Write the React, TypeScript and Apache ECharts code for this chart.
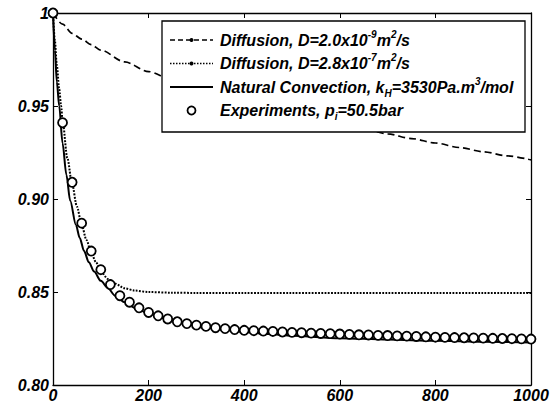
import React, { useEffect, useRef } from 'react';
import * as echarts from 'echarts';

// Time axis (s) and normalised pressure values
const DIFF_SLOW_T = [0, 20, 40, 60, 80, 100, 150, 200, 250, 300, 350, 400, 450, 500, 550, 600, 650, 700, 750, 800, 850, 900, 950, 1000];
const DIFF_SLOW_V = [1.0, 0.994, 0.989, 0.986, 0.983, 0.980, 0.9737, 0.9685, 0.964, 0.9599, 0.9561, 0.9526, 0.9493, 0.9462, 0.9432, 0.9404, 0.9376, 0.935, 0.9325, 0.9301, 0.9277, 0.9254, 0.9232, 0.921];

const DIFF_FAST_T = [0, 4, 8, 13, 17, 20, 30, 40, 50, 60, 70, 80, 90, 100, 115, 130, 150, 170, 200, 250, 300, 400, 500, 600, 700, 800, 900, 1000];
const DIFF_FAST_V = [1.0, 0.985, 0.972, 0.959, 0.95, 0.942, 0.922, 0.908, 0.896, 0.886, 0.878, 0.871, 0.866, 0.861, 0.857, 0.8545, 0.852, 0.8508, 0.85, 0.8496, 0.8495, 0.8495, 0.8495, 0.8495, 0.8495, 0.8495, 0.8495, 0.8495];

const CONV_T = [0, 4, 8, 13, 20, 28, 36, 48, 56, 65, 75, 86, 100, 115, 130, 150, 175, 200, 250, 300, 350, 400, 450, 500, 600, 700, 800, 900, 1000];
const CONV_V = [1.0, 0.98, 0.963, 0.95, 0.93, 0.913, 0.899, 0.886, 0.879, 0.872, 0.866, 0.861, 0.856, 0.852, 0.848, 0.8445, 0.841, 0.8385, 0.8345, 0.832, 0.83, 0.8285, 0.8274, 0.8265, 0.8252, 0.8244, 0.8238, 0.8233, 0.8228];

const EXP_T = [0, 20, 40, 60, 80, 100, 120, 140, 160, 180, 200, 220, 240, 260, 280, 300, 320, 340, 360, 380, 400, 420, 440, 460, 480, 500, 520, 540, 560, 580, 600, 620, 640, 660, 680, 700, 720, 740, 760, 780, 800, 820, 840, 860, 880, 900, 920, 940, 960, 980, 1000];
const EXP_V = [1.0, 0.941, 0.909, 0.887, 0.872, 0.862, 0.854, 0.848, 0.8445, 0.8415, 0.839, 0.8372, 0.8355, 0.834, 0.833, 0.8322, 0.8315, 0.8308, 0.8303, 0.8298, 0.8294, 0.8292, 0.829, 0.8288, 0.8285, 0.8283, 0.8281, 0.8279, 0.8277, 0.8276, 0.8274, 0.8272, 0.827, 0.8269, 0.8267, 0.8266, 0.8264, 0.8263, 0.8261, 0.8259, 0.8257, 0.8256, 0.8255, 0.8254, 0.8253, 0.8252, 0.8251, 0.825, 0.8249, 0.8248, 0.8247];

const X_TICK_LABELS = ['0', '200', '400', '600', '800', '1000'];
const Y_TICKS = [0.8, 0.85, 0.9, 0.95, 1.0];
const Y_TICK_LABELS = ['0.80', '0.85', '0.90', '0.95', '1'];

const LEGEND_LABELS = [
  '{t|Diffusion, D=2.0x10}{sup|-9}{t|m}{sup|2}{t|/s}',
  '{t|Diffusion, D=2.8x10}{sup|-7}{t|m}{sup|2}{t|/s}',
  '{t|Natural Convection, k}{sub|H}{t|=3530Pa.m}{sup|3}{t|/mol}',
  '{t|Experiments, p}{sub|i}{t|=50.5bar}',
];

const FONT = "'Liberation Sans', Arial, Helvetica, sans-serif";

const zip = (xs: number[], ys: number[]) => xs.map((x, i) => [x, ys[i]]);

const axisFont = {
  color: '#000',
  fontSize: 16,
  fontWeight: 'bold' as const,
  fontStyle: 'italic' as const,
  fontFamily: FONT,
};

export default function App() {
  const ref = useRef<HTMLDivElement>(null);

  useEffect(() => {
    document.body.style.margin = '0';
    if (!ref.current) return;
    const chart = echarts.init(ref.current, null, { renderer: 'svg' });

    const lineCommon = {
      type: 'line' as const,
      showSymbol: false,
      symbol: 'none',
      smooth: 0.3,
      smoothMonotone: 'x' as const,
      xAxisIndex: 0,
      yAxisIndex: 0,
    };

    const LF = 16;
    const rich = {
      t: { fontSize: LF, fontWeight: 'bold', fontStyle: 'italic', fontFamily: FONT, fill: '#000', lineHeight: 22 },
      sup: { fontSize: 10, fontWeight: 'bold', fontStyle: 'italic', fontFamily: FONT, fill: '#000', lineHeight: 13, verticalAlign: 'top' },
      sub: { fontSize: 10, fontWeight: 'bold', fontStyle: 'italic', fontFamily: FONT, fill: '#000', lineHeight: 11, verticalAlign: 'bottom' },
    };

    // legend box layout
    const boxX = 162, boxY = 21, boxW = 363, boxH = 111;
    const rowY = [40, 63.5, 87, 110.5];
    const sx1 = 170, sx2 = 213, sxm = 191.5, textX = 220;

    const legendEls: any[] = [
      {
        type: 'rect', z: 100,
        shape: { x: boxX, y: boxY, width: boxW, height: boxH },
        style: { fill: '#fff', stroke: '#000', lineWidth: 1.3 },
      },
      {
        type: 'line', z: 101,
        shape: { x1: sx1, y1: rowY[0], x2: sx2, y2: rowY[0] },
        style: { stroke: '#000', lineWidth: 1.6, lineDash: [5, 3] },
      },
      { type: 'circle', z: 102, shape: { cx: sxm, cy: rowY[0], r: 2 }, style: { fill: '#000' } },
      {
        type: 'line', z: 101,
        shape: { x1: sx1, y1: rowY[1], x2: sx2, y2: rowY[1] },
        style: { stroke: '#000', lineWidth: 1.6, lineDash: [1.5, 1.5] },
      },
      { type: 'circle', z: 102, shape: { cx: sxm, cy: rowY[1], r: 2 }, style: { fill: '#000' } },
      {
        type: 'line', z: 101,
        shape: { x1: sx1, y1: rowY[2], x2: sx2, y2: rowY[2] },
        style: { stroke: '#000', lineWidth: 2 },
      },
      { type: 'circle', z: 102, shape: { cx: sxm, cy: rowY[3], r: 4 }, style: { fill: '#fff', stroke: '#000', lineWidth: 1.8 } },
    ];
    LEGEND_LABELS.forEach((label, i) => {
      legendEls.push({
        type: 'text', z: 102,
        x: textX, y: rowY[i],
        style: {
          text: label, rich, fill: '#000',
          fontSize: LF, fontWeight: 'bold', fontStyle: 'italic', fontFamily: FONT,
          align: 'left', verticalAlign: 'middle',
        },
      });
    });

    const xBase = {
      type: 'value' as const, min: 0, max: 1000, interval: 200,
      axisLine: { show: true, onZero: false, lineStyle: { color: '#000', width: 1.3 } },
      axisTick: { show: true, inside: true, length: 5, lineStyle: { color: '#000', width: 1 } },
      splitLine: { show: false },
    };
    const yBase = {
      type: 'value' as const, min: 0.8, max: 1.0, interval: 0.05,
      axisLine: { show: true, onZero: false, lineStyle: { color: '#000', width: 1.3 } },
      axisTick: { show: true, inside: true, length: 5, lineStyle: { color: '#000', width: 1 } },
      splitLine: { show: false },
    };

    chart.setOption({
      animation: false,
      backgroundColor: '#fff',
      grid: { left: 53, right: 27, top: 13, bottom: 26, containLabel: false },
      xAxis: [
        {
          ...xBase, position: 'bottom',
          axisLabel: {
            ...axisFont, margin: 2,
            formatter: (v: number) => X_TICK_LABELS[Math.round(v / 200)] ?? String(v),
          },
        },
        { ...xBase, position: 'top', axisLabel: { show: false } },
      ],
      yAxis: [
        {
          ...yBase, position: 'left',
          axisLabel: {
            ...axisFont, margin: 4,
            formatter: (v: number) => {
              let best = 0;
              Y_TICKS.forEach((t, i) => { if (Math.abs(t - v) < Math.abs(Y_TICKS[best] - v)) best = i; });
              return Y_TICK_LABELS[best];
            },
          },
        },
        { ...yBase, position: 'right', axisLabel: { show: false } },
      ],
      series: [
        {
          ...lineCommon, name: 'Diffusion slow',
          data: zip(DIFF_SLOW_T, DIFF_SLOW_V),
          lineStyle: { color: '#000', width: 1.7, type: [7, 4] },
        },
        {
          ...lineCommon, name: 'Diffusion fast',
          data: zip(DIFF_FAST_T, DIFF_FAST_V),
          lineStyle: { color: '#000', width: 2, type: [1.8, 1.4] },
        },
        {
          ...lineCommon, name: 'Natural convection',
          data: zip(CONV_T, CONV_V),
          lineStyle: { color: '#000', width: 2 },
        },
        {
          type: 'scatter', name: 'Experiments',
          data: zip(EXP_T, EXP_V),
          symbol: 'circle', symbolSize: 9,
          itemStyle: { color: '#fff', borderColor: '#000', borderWidth: 1.8, opacity: 1 },
          z: 5,
        },
      ],
      graphic: { elements: legendEls },
    });

    return () => chart.dispose();
  }, []);

  return <div ref={ref} style={{ width: 558, height: 411 }} />;
}
